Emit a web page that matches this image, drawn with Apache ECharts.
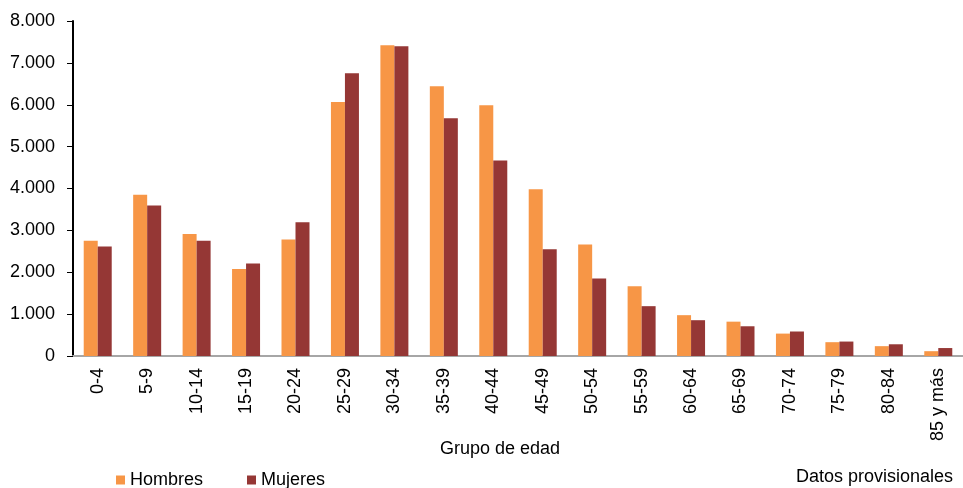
<!DOCTYPE html>
<html>
<head>
<meta charset="utf-8">
<script src="https://cdn.jsdelivr.net/npm/echarts@6/dist/echarts.min.js"></script>
<style>
    html, body { margin: 0; padding: 0; background: #fff; }
    #chart { width: 963px; height: 488px; }
</style>
</head>
<body>
<div id="chart"></div>
<script>
const AGE_GROUPS = ['0-4', '5-9', '10-14', '15-19', '20-24', '25-29', '30-34', '35-39', '40-44',
    '45-49', '50-54', '55-59', '60-64', '65-69', '70-74', '75-79', '80-84', '85 y más'];
const HOMBRES = [2750, 3850, 2915, 2075, 2780, 6065, 7420, 6440, 5990,
    3985, 2660, 1665, 975, 820, 535, 330, 235, 115];
const MUJERES = [2615, 3595, 2750, 2210, 3195, 6750, 7395, 5675, 4670,
    2550, 1850, 1190, 855, 710, 585, 345, 280, 190];
const SERIES_NAMES = ['Hombres', 'Mujeres'];

const FONT = 'Liberation Sans, Arial, sans-serif';

const chart = echarts.init(document.getElementById('chart'));

chart.setOption({
    animation: false,
    textStyle: { fontFamily: FONT },
    grid: {
        left: 73,
        top: 21,
        width: 900,
        height: 335
    },
    legend: {
        data: SERIES_NAMES,
        left: 111,
        top: 466,
        icon: 'rect',
        itemWidth: 9,
        itemHeight: 9,
        itemGap: 44,
        textStyle: { fontSize: 18, color: '#000', fontFamily: FONT }
    },
    xAxis: {
        type: 'category',
        data: AGE_GROUPS,
        axisLine: { lineStyle: { color: '#A6A6A6', width: 2 } },
        axisTick: { alignWithLabel: false, length: 5, lineStyle: { color: '#A6A6A6' } },
        axisLabel: {
            rotate: 90,
            margin: 12,
            fontSize: 18,
            color: '#000',
            interval: 0
        }
    },
    yAxis: {
        type: 'value',
        min: 0,
        max: 8000,
        interval: 1000,
        splitLine: { show: false },
        axisLine: { show: true, lineStyle: { color: '#000', width: 2 } },
        axisTick: { show: true, length: 6, lineStyle: { color: '#000' } },
        axisLabel: {
            margin: 18,
            fontSize: 18,
            color: '#000',
            formatter: function (v) {
                return v.toString().replace(/\B(?=(\d{3})+(?!\d))/g, '.');
            }
        }
    },
    graphic: [
        {
            type: 'text',
            left: 440,
            top: 440,
            style: { text: 'Grupo de edad', font: '18px ' + FONT, fill: '#000' }
        },
        {
            type: 'text',
            right: 10,
            top: 468,
            style: { text: 'Datos provisionales', font: '18px ' + FONT, fill: '#000' }
        }
    ],
    series: [
        {
            name: SERIES_NAMES[0],
            type: 'bar',
            data: HOMBRES,
            barWidth: 14,
            barGap: '0%',
            itemStyle: { color: '#F79646' }
        },
        {
            name: SERIES_NAMES[1],
            type: 'bar',
            data: MUJERES,
            barWidth: 14,
            barGap: '0%',
            itemStyle: { color: '#953735' }
        }
    ]
});
</script>
</body>
</html>
